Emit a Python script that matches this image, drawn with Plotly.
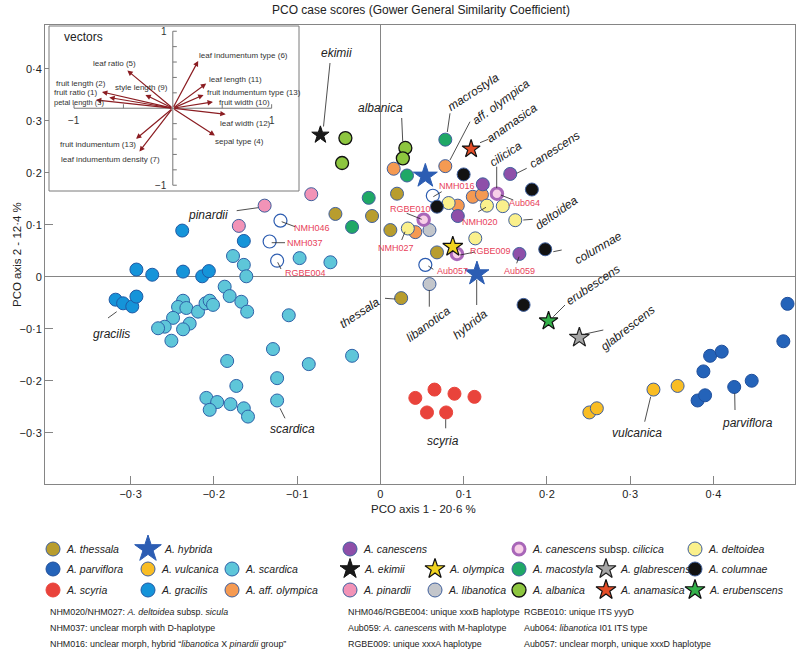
import plotly.graph_objects as go

W, H = 798, 653
FONT = "Liberation Sans, Arial, Helvetica, sans-serif"

# ---------------- data (PCO case scores) ----------------
scardica_x = [-0.177, -0.164, -0.161, -0.187, -0.181, -0.167, -0.160, -0.110, -0.097, -0.060,
              -0.237, -0.243, -0.233, -0.219, -0.210, -0.205, -0.201, -0.249, -0.259, -0.267,
              -0.229, -0.237, -0.251, -0.129, -0.184, -0.086, -0.034, -0.124, -0.173, -0.209,
              -0.196, -0.205, -0.180, -0.164, -0.159, -0.124]
scardica_y = [0.040, 0.023, 0.001, -0.019, -0.037, -0.048, -0.067, -0.074, 0.036, 0.028,
              -0.046, -0.058, -0.060, -0.067, -0.051, -0.046, -0.054, -0.079, -0.096, -0.099,
              -0.090, -0.101, -0.123, -0.139, -0.162, -0.168, -0.152, -0.195, -0.210, -0.233,
              -0.241, -0.256, -0.245, -0.253, -0.269, -0.238]
gracilis_x = [-0.238, -0.164, -0.293, -0.274, -0.237, -0.214, -0.206, -0.318, -0.309, -0.298, -0.293]
gracilis_y = [0.089, 0.069, 0.014, 0.004, 0.010, 0.001, 0.011, -0.044, -0.051, -0.057, -0.038]
thessala_x = [-0.054, -0.010, 0.020, 0.012, 0.068, 0.025]
thessala_y = [0.121, 0.117, 0.160, 0.090, 0.047, -0.041]
parviflora_x = [0.489, 0.484, 0.396, 0.410, 0.388, 0.381, 0.390, 0.425, 0.446]
parviflora_y = [-0.052, -0.124, -0.152, -0.144, -0.182, -0.238, -0.228, -0.212, -0.200]
scyria_x = [0.042, 0.065, 0.089, 0.113, 0.056, 0.079]
scyria_y = [-0.233, -0.217, -0.225, -0.231, -0.261, -0.261]
vulcanica_x = [0.251, 0.260, 0.328, 0.357]
vulcanica_y = [-0.261, -0.253, -0.217, -0.210]
pinardii_x = [-0.139, -0.170, -0.083]
pinardii_y = [0.137, 0.098, 0.159]
aff_olympica_x = [0.016, 0.078, 0.042, 0.093, 0.111, 0.122]
aff_olympica_y = [0.208, 0.213, 0.086, 0.137, 0.154, 0.158]
macrostyla_x = [-0.034, -0.014, 0.032, 0.078]
macrostyla_y = [0.096, 0.152, 0.195, 0.264]
albanica_x = [-0.042, -0.046, 0.030, 0.027]
albanica_y = [0.267, 0.219, 0.248, 0.228]
libanotica_x = [0.059, 0.059]
libanotica_y = [0.090, -0.014]
deltoidea_x = [0.082, 0.128, 0.147, 0.162, 0.114, 0.033]
deltoidea_y = [0.142, 0.137, 0.136, 0.109, 0.074, 0.093]
unknown_x = [-0.120, -0.133, -0.124, 0.063, 0.054]
unknown_y = [0.108, 0.068, 0.031, 0.156, 0.023]
columnae_x = [0.100, 0.068, 0.182, 0.198, 0.172]
columnae_y = [0.197, 0.135, 0.168, 0.053, -0.054]
canescens_x = [0.123, 0.156, 0.093, 0.167]
canescens_y = [0.178, 0.198, 0.117, 0.044]
cilicica_x = [0.140, 0.052, 0.092]
cilicica_y = [0.160, 0.110, 0.044]
hybrida_x = [0.054, 0.116]
hybrida_y = [0.194, 0.006]
ekimii_x = [-0.072]
ekimii_y = [0.273]
anamasica_x = [0.109]
anamasica_y = [0.246]
olympica_x = [0.087]
olympica_y = [0.058]
erubescens_x = [0.202]
erubescens_y = [-0.085]
glabrescens_x = [0.239]
glabrescens_y = [-0.117]

x_ticks = [-0.3, -0.2, -0.1, 0, 0.1, 0.2, 0.3, 0.4]
x_ticktext = ["\u22120\u00b73", "\u22120\u00b72", "\u22120\u00b71", "0", "0\u00b71", "0\u00b72", "0\u00b73", "0\u00b74"]
y_ticks = [-0.3, -0.2, -0.1, 0, 0.1, 0.2, 0.3, 0.4]
y_ticktext = ["\u22120\u00b73", "\u22120\u00b72", "\u22120\u00b71", "0", "0\u00b71", "0\u00b72", "0\u00b73", "0\u00b74"]

# vectors (inset)
vec_names = ["leaf indumentum type (6)", "leaf ratio (5)", "leaf length (11)", "fruit length (2)",
             "fruit ratio (1)", "petal length (3)", "style length (9)", "fruit indumentum type (13)",
             "fruit width (10)", "leaf width (12)", "sepal type (4)", "fruit indumentum (13)",
             "leaf indumentum density (7)"]
vec_x = [0.257, -0.460, 0.338, -0.717, -0.643, -0.778, -0.277, 0.311, 0.406, 0.535, 0.426, -0.372, -0.338]
vec_y = [0.615, 0.490, 0.320, 0.212, 0.139, 0.108, 0.173, 0.173, 0.082, -0.078, -0.355, -0.398, -0.563]

# ---------------- styles ----------------
BL = "#3f5f9c"
styles = {
    "scardica": dict(symbol="circle", size=13, color="#5ec6d9", line="#2e62a8", lw=1),
    "gracilis": dict(symbol="circle", size=13, color="#1594d9", line="#1f5aa5", lw=1),
    "thessala": dict(symbol="circle", size=13, color="#b89d2e", line=BL, lw=1),
    "parviflora": dict(symbol="circle", size=13, color="#2463b9", line="#1f4f9c", lw=1),
    "scyria": dict(symbol="circle", size=13, color="#e9433b", line="#e9433b", lw=1),
    "vulcanica": dict(symbol="circle", size=13, color="#f9bd24", line=BL, lw=1),
    "pinardii": dict(symbol="circle", size=13, color="#f293b7", line=BL, lw=1),
    "aff_olympica": dict(symbol="circle", size=13, color="#f59a52", line=BL, lw=1),
    "macrostyla": dict(symbol="circle", size=13, color="#1fa866", line=BL, lw=1),
    "albanica": dict(symbol="circle", size=13, color="#8dc63f", line="#111111", lw=1.3),
    "libanotica": dict(symbol="circle", size=13, color="#c3c6cb", line=BL, lw=1),
    "deltoidea": dict(symbol="circle", size=13, color="#faf08c", line=BL, lw=1),
    "unknown": dict(symbol="circle", size=13, color="#ffffff", line="#2c5cb0", lw=1.2),
    "columnae": dict(symbol="circle", size=13, color="#121212", line=BL, lw=1),
    "canescens": dict(symbol="circle", size=13, color="#8e4fa9", line=BL, lw=1),
    "cilicica": dict(symbol="circle", size=11.5, color="#f8d0e8", line="#a866b8", lw=3),
    "hybrida": dict(symbol="star", size=18, color="#2c5db3", line="#2c5db3", lw=1),
    "ekimii": dict(symbol="star", size=13, color="#1a1a1a", line="#111111", lw=1),
    "anamasica": dict(symbol="star", size=13.5, color="#e44d27", line="#111111", lw=1.2),
    "olympica": dict(symbol="star", size=15, color="#f0d31f", line="#111111", lw=1.2),
    "erubescens": dict(symbol="star", size=14, color="#34b14a", line="#111111", lw=1.2),
    "glabrescens": dict(symbol="star", size=15, color="#a6a6a6", line="#222222", lw=1.2),
}

series = [
    ("scardica", scardica_x, scardica_y), ("gracilis", gracilis_x, gracilis_y),
    ("thessala", thessala_x, thessala_y), ("parviflora", parviflora_x, parviflora_y),
    ("scyria", scyria_x, scyria_y), ("vulcanica", vulcanica_x, vulcanica_y),
    ("pinardii", pinardii_x, pinardii_y), ("macrostyla", macrostyla_x, macrostyla_y),
    ("albanica", albanica_x, albanica_y), ("aff_olympica", aff_olympica_x, aff_olympica_y),
    ("deltoidea", deltoidea_x, deltoidea_y), ("libanotica", libanotica_x, libanotica_y),
    ("unknown", unknown_x, unknown_y), ("columnae", columnae_x, columnae_y),
    ("canescens", canescens_x, canescens_y), ("cilicica", cilicica_x, cilicica_y),
    ("hybrida", hybrida_x, hybrida_y), ("ekimii", ekimii_x, ekimii_y),
    ("anamasica", anamasica_x, anamasica_y), ("olympica", olympica_x, olympica_y),
    ("erubescens", erubescens_x, erubescens_y), ("glabrescens", glabrescens_x, glabrescens_y),
]

fig = go.Figure()
for key, xs, ys in series:
    s = styles[key]
    fig.add_trace(go.Scatter(x=xs, y=ys, mode="markers", name=key, showlegend=False,
                             hoverinfo="skip",
                             marker=dict(symbol=s["symbol"], size=s["size"], color=s["color"],
                                         line=dict(color=s["line"], width=s["lw"]))))

# ---------------- layout helpers ----------------
def fx(p):
    return p / W

def fy(p):
    return 1 - p / H

annotations = []
shapes = []

def label(text, x, y, size=12, color="#222222", angle=0, xanchor="center", italic=True):
    t = "<i>%s</i>" % text if italic else text
    annotations.append(dict(text=t, x=fx(x), y=fy(y), xref="paper", yref="paper",
                            showarrow=False, textangle=angle, xanchor=xanchor, yanchor="middle",
                            font=dict(family=FONT, size=size, color=color)))

def leader(x0, y0, x1, y1, color="#222222", w=0.8):
    shapes.append(dict(type="line", xref="paper", yref="paper", x0=fx(x0), y0=fy(y0),
                       x1=fx(x1), y1=fy(y1), line=dict(color=color, width=w)))

# title and axis titles
label("PCO case scores (Gower General Similarity Coefficient)", 421, 10, size=12, italic=False)
label("PCO axis 1 - 20\u00b76 %", 423, 509, size=11.5, italic=False)
annotations.append(dict(text="PCO axis 2 - 12\u00b74 %", x=fx(9), y=fy(255), xref="paper", yref="paper",
                        showarrow=False, textangle=-90, font=dict(family=FONT, size=11.5, color="#222222")))

# species labels
species_labels = [
    ("ekimii", 336.7, 53.3, 0), ("albanica", 380, 108.3, 0), ("macrostyla", 473.3, 91.7, -33),
    ("aff. olympica", 500.7, 101.7, -36), ("anamasica", 512, 123.3, -35), ("cilicica", 505.7, 154, -33),
    ("canescens", 554, 150, -33), ("deltoidea", 556, 213, -35), ("columnae", 598, 248, -30),
    ("erubescens", 592.7, 285, -34), ("glabrescens", 627.8, 327.6, -38), ("hybrida", 470.4, 323.6, -38),
    ("libanotica", 428.6, 324.3, -36), ("thessala", 359.3, 312.7, -33), ("gracilis", 111.3, 334.3, 0),
    ("scardica", 292.7, 429, 0), ("pinardii", 208.3, 215, 0), ("scyria", 443.3, 441, 0),
    ("vulcanica", 637.3, 433.3, 0), ("parviflora", 747, 423.3, 0),
]
for t, x, y, a in species_labels:
    label(t, x, y, size=12, angle=a)

code_labels = [
    ("NMH046", 312, 227.5), ("NMH037", 305, 242.7), ("RGBE004", 305.3, 273.3), ("NMH016", 457, 186),
    ("RGBE010", 410, 208.5), ("NMH027", 396, 248), ("NMH020", 480, 222), ("Aub064", 524, 203),
    ("RGBE009", 490, 251), ("Aub057", 452, 271), ("Aub059", 519, 271),
]
for t, x, y in code_labels:
    label(t, x, y, size=9, color="#e8425a", italic=False)

leaders = [
    (330, 63, 323.5, 126.5), (401.7, 118, 402.7, 141), (450, 113.3, 447.3, 132), (470, 121.7, 450, 160),
    (480, 142.7, 488.3, 139.3), (496.7, 166.7, 496.7, 188), (516.7, 173.3, 526.7, 168.3),
    (523.3, 220, 532.7, 219.3), (553.3, 251.7, 561.7, 250), (553.3, 316.7, 565, 305),
    (585, 334, 603.3, 330), (476.7, 280, 476.7, 305), (429.3, 290, 429.3, 306.7), (385, 298.3, 395, 299),
    (108, 318, 116.7, 311.7), (280, 408.3, 285, 418.3), (236.7, 210.7, 258, 207.7),
    (445.7, 419.3, 445.7, 428.3), (650.7, 396.7, 644.7, 421.7), (734.7, 393.3, 735, 410),
    (281.7, 221.7, 295, 226.7), (271.7, 242.7, 285, 242.7), (277.7, 262.3, 281, 269),
    (433.3, 196.7, 441.7, 191.7), (428.3, 266, 433.3, 269.3), (500.7, 195, 513.3, 200),
    (406.7, 213.3, 421.7, 219.3), (460, 255, 475, 252), (516.7, 263.3, 519, 256.7),
    (478.3, 211.7, 486, 207.3), (401.7, 240, 405, 231.7),
]
for l in leaders:
    leader(*l)

# ---------------- inset (vectors) ----------------
INS_L, INS_R, INS_T, INS_B = 49, 299, 26, 191
shapes.append(dict(type="rect", xref="paper", yref="paper", x0=fx(INS_L), x1=fx(INS_R),
                   y0=fy(INS_B), y1=fy(INS_T), line=dict(color="#7a7a7a", width=1),
                   fillcolor="rgba(0,0,0,0)", layer="above"))
shapes.append(dict(type="line", xref="x2", yref="y2", x0=-1, x1=1, y0=0, y1=0,
                   line=dict(color="#777777", width=1)))
shapes.append(dict(type="line", xref="x2", yref="y2", x0=0, x1=0, y0=-1, y1=1,
                   line=dict(color="#777777", width=1)))
for v in [-1, -0.5, 0.5, 1]:
    shapes.append(dict(type="line", xref="x2", yref="y2", ysizemode="pixel", yanchor=0,
                       x0=v, x1=v, y0=0, y1=4, line=dict(color="#777777", width=1)))
for v in [-1, -0.8, -0.6, -0.4, -0.2, 0.2, 0.4, 0.6, 0.8, 1]:
    shapes.append(dict(type="line", xref="x2", yref="y2", xsizemode="pixel", xanchor=0,
                       x0=0, x1=4, y0=v, y1=v, line=dict(color="#777777", width=1)))

for vx, vy in zip(vec_x, vec_y):
    annotations.append(dict(x=vx, y=vy, ax=0, ay=0, xref="x2", yref="y2", axref="x2", ayref="y2",
                            text="", showarrow=True, arrowhead=2, arrowsize=0.9, arrowwidth=1.2,
                            arrowcolor="#8b1d22", standoff=0, startstandoff=0))

vec_label_pos = {
    "leaf indumentum type (6)": (0.243, 0.688, "left"),
    "leaf ratio (5)": (-0.595, 0.58, "center"),
    "leaf length (11)": (0.345, 0.372, "left"),
    "fruit length (2)": (-0.652, 0.325, "right"),
    "fruit ratio (1)": (-0.75, 0.208, "right"),
    "petal length (3)": (-1.226, 0.074, "left"),
    "style length (9)": (-0.321, 0.264, "center"),
    "fruit indumentum type (13)": (0.321, 0.203, "left"),
    "fruit width (10)": (0.446, 0.074, "left"),
    "leaf width (12)": (0.456, -0.199, "left"),
    "sepal type (4)": (0.405, -0.429, "left"),
    "fruit indumentum (13)": (-0.753, -0.476, "center"),
    "leaf indumentum density (7)": (-0.635, -0.667, "center"),
}
for name in vec_names:
    lx, ly, anc = vec_label_pos[name]
    sz = 7.5 if name == "petal length (3)" else 8
    annotations.append(dict(text=name, x=lx, y=ly, xref="x2", yref="y2", showarrow=False,
                            xanchor=anc, yanchor="middle", font=dict(family=FONT, size=sz, color="#333333")))

annotations.append(dict(text="vectors", x=-0.905, y=0.931, xref="x2", yref="y2", showarrow=False,
                        font=dict(family=FONT, size=12, color="#222222")))
for t, x, y, anc in [("1", -0.04, 1.0, "right"), ("\u22121", -0.04, -1.0, "right"),
                     ("\u22121", -1.0, -0.16, "center"), ("1", 1.0, -0.16, "center")]:
    annotations.append(dict(text=t, x=x, y=y, xref="x2", yref="y2", showarrow=False, xanchor=anc,
                            font=dict(family=FONT, size=10, color="#333333")))

# ---------------- legend (manual grid) ----------------
col_x = [53, 148, 232, 350, 435, 519, 606, 695]
row_y = [549, 569, 590]
legend_rows = [
    [(0, "thessala", "<i>A. thessala</i>"), (1, "hybrida", "<i>A. hybrida</i>"),
     (3, "canescens", "<i>A. canescens</i>"), (5, "cilicica", "<i>A. canescens</i> subsp. <i>cilicica</i>"),
     (7, "deltoidea", "<i>A. deltoidea</i>")],
    [(0, "parviflora", "<i>A. parviflora</i>"), (1, "vulcanica", "<i>A. vulcanica</i>"),
     (2, "scardica", "<i>A. scardica</i>"), (3, "ekimii", "<i>A. ekimii</i>"),
     (4, "olympica", "<i>A. olympica</i>"), (5, "macrostyla", "<i>A. macostyla</i>"),
     (6, "glabrescens", "<i>A. glabrescens</i>"), (7, "columnae", "<i>A. columnae</i>")],
    [(0, "scyria", "<i>A. scyria</i>"), (1, "gracilis", "<i>A. gracilis</i>"),
     (2, "aff_olympica", "<i>A. aff. olympica</i>"), (3, "pinardii", "<i>A. pinardii</i>"),
     (4, "libanotica", "<i>A. libanotica</i>"), (5, "albanica", "<i>A. albanica</i>"),
     (6, "anamasica", "<i>A. anamasica</i>"), (7, "erubescens", "<i>A. erubenscens</i>")],
]
for r, row in enumerate(legend_rows):
    for c, key, text in row:
        s = styles[key]
        if s["symbol"] == "star":
            size = 20 if key == "hybrida" else 15
            off = 14 if key == "hybrida" else 12
        else:
            size = 14 if key != "cilicica" else 12
            off = 11
        fig.add_trace(go.Scatter(x=[col_x[c]], y=[row_y[r]], xaxis="x3", yaxis="y3", mode="markers",
                                 showlegend=False, hoverinfo="skip",
                                 marker=dict(symbol=s["symbol"], size=size, color=s["color"],
                                             line=dict(color=s["line"], width=s["lw"]))))
        annotations.append(dict(text=text, x=col_x[c] + off, y=row_y[r], xref="x3", yref="y3",
                                showarrow=False, xanchor="left", yanchor="middle",
                                font=dict(family=FONT, size=10.5, color="#222222")))

foot_cols = [48, 346, 522]
foot_rows = [612, 628, 644]
footnotes = [
    ["NHM020/NHM027: <i>A. deltoidea</i> subsp. <i>sicula</i>",
     "NHM037: unclear morph with D-haplotype",
     "NHM016: unclear morph, hybrid \u201c<i>libanotica</i> X <i>pinardii</i> group\u201d"],
    ["NHM046/RGBE004: unique xxxB haplotype",
     "Aub059: <i>A. canescens</i> with M-haplotype",
     "RGBE009: unique xxxA haplotype"],
    ["RGBE010: unique ITS yyyD",
     "Aub064: <i>libanotica</i> I01 ITS type",
     "Aub057: unclear morph, unique xxxD haplotype"],
]
for c, col in enumerate(footnotes):
    for r, t in enumerate(col):
        annotations.append(dict(text=t, x=fx(foot_cols[c]), y=fy(foot_rows[r]), xref="paper", yref="paper",
                                showarrow=False, xanchor="left", yanchor="middle",
                                font=dict(family=FONT, size=8.9, color="#222222")))

# ---------------- axes ----------------
axis_common = dict(showgrid=False, showline=True, mirror=True, linecolor="#858585", linewidth=1,
                   ticks="inside", ticklen=8, tickcolor="#858585", tickwidth=1,
                   zeroline=True, zerolinecolor="#858585", zerolinewidth=1,
                   tickfont=dict(family=FONT, size=11, color="#222222"))

fig.update_layout(
    width=W, height=H, margin=dict(l=0, r=0, t=0, b=0),
    paper_bgcolor="white", plot_bgcolor="white", showlegend=False,
    xaxis=dict(domain=[fx(45), fx(795)], range=[-0.4028, 0.498], tickvals=x_ticks, ticktext=x_ticktext,
               anchor="y", **axis_common),
    yaxis=dict(domain=[fy(484), fy(25)], range=[-0.3987, 0.4846], tickvals=y_ticks, ticktext=y_ticktext,
               anchor="x", **axis_common),
    xaxis2=dict(domain=[fx(INS_L), fx(INS_R)], range=[-1.253, 1.277], visible=False, anchor="y2"),
    yaxis2=dict(domain=[fy(INS_B), fy(INS_T)], range=[-1.075, 1.068], visible=False, anchor="x2"),
    xaxis3=dict(domain=[0, 1], range=[0, W], visible=False, anchor="y3"),
    yaxis3=dict(domain=[0, fy(525)], range=[H, 525], visible=False, anchor="x3"),
    annotations=annotations, shapes=shapes,
)

fig.write_html("out.html", config={"displayModeBar": False},
               post_script="document.body.style.margin='0';document.body.style.overflow='hidden';")
